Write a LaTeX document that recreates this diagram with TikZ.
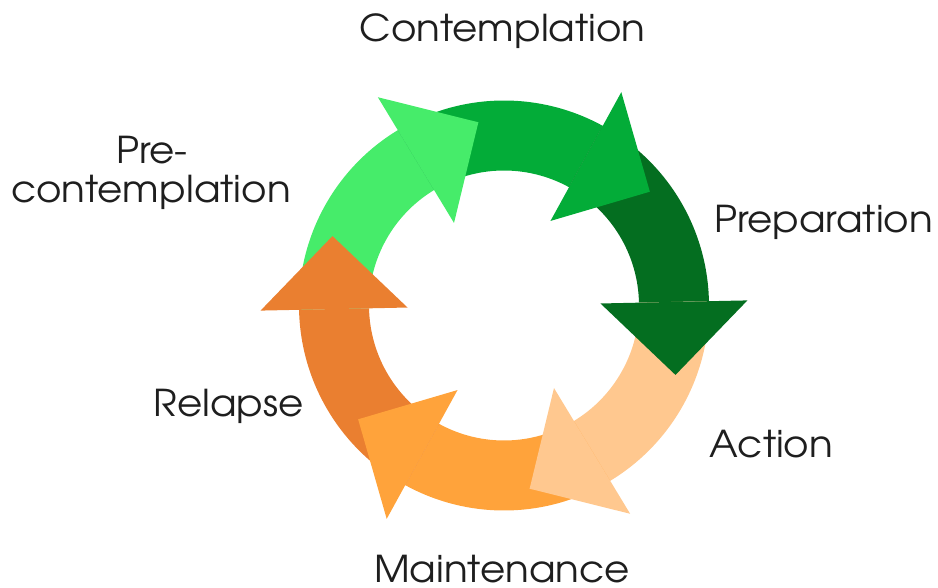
\documentclass[tikz,border=0pt]{standalone}
\usepackage{fontspec}
\setmainfont[FakeStretch=1.05]{TeX Gyre Adventor}
\usetikzlibrary{calc}
\definecolor{cPre}{HTML}{46EC6A}
\definecolor{cCon}{HTML}{03AC38}
\definecolor{cPrep}{HTML}{046E20}
\definecolor{cAct}{HTML}{FFC88F}
\definecolor{cMain}{HTML}{FFA33B}
\definecolor{cRel}{HTML}{EA7F30}
\definecolor{txt}{HTML}{1E1E1E}
\newcommand\cycshaft[3]{\fill[#3] ($(c)+(#1:205)$) arc[start angle=#1,end angle=#2,radius=205] -- ($(c)+(#2:135)$) arc[start angle=#2,end angle=#1,radius=135] -- cycle;}
\newcommand\cychead[2]{\fill[#2] ($(c)+(#1:96.5)$) -- ($(c)+(#1:243.5)$) -- ($(c)+(#1:170)+(#1-90:73)$) -- cycle;}
\begin{document}
\begin{tikzpicture}[x=1pt,y=1pt,
  lab/.style={text=txt,font=\fontsize{37}{39}\selectfont,inner sep=0pt,anchor=base}]
\useasboundingbox (0,0) rectangle (938,-588);
\coordinate (c) at (504,-305.5);
% shafts
\cycshaft{181.2}{121.2}{cPre}
\cycshaft{121.2}{61.2}{cCon}
\cycshaft{61.2}{1.2}{cPrep}
\cycshaft{1.2}{-58.8}{cAct}
\cycshaft{-58.8}{-118.8}{cMain}
\cycshaft{241.2}{181.2}{cRel}
% heads
\cychead{121.2}{cPre}
\cychead{61.2}{cCon}
\cychead{1.2}{cPrep}
\cychead{-58.8}{cAct}
\cychead{-118.8}{cMain}
\cychead{181.2}{cRel}
% labels
\node[lab] (con) at (502.5,-42) {Contemplation};
\node[lab] (pre1) at (152,-164) {Pre-};
\node[lab] (pre2) at (151,-203) {contemplation};
\node[lab] (prep) at (823.5,-233) {Preparation};
\node[lab] (act) at (771.5,-457) {Action};
\node[lab] (rel) at (228.5,-417) {Relapse};
\node[lab] (main) at (502,-582) {Maintenance};
\end{tikzpicture}
\end{document}
